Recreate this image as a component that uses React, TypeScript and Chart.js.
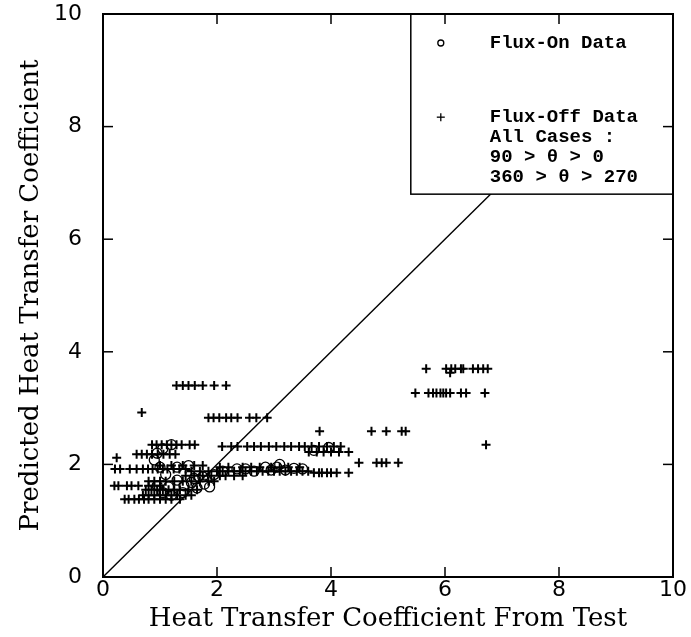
import React, { useEffect, useRef } from "react";
import { Chart, registerables } from "chart.js";
Chart.register(...registerables);

// ---- data ----
const tickValues = [0, 2, 4, 6, 8, 10];

const fluxOffX = [
  // y ~ 3.40
  1.29, 1.40, 1.50, 1.61, 1.75, 1.95, 2.16,
  // lone
  0.68,
  // y ~ 2.83
  1.85, 1.94, 2.04, 2.16, 2.25, 2.36, 2.57, 2.69, 2.88,
  // y ~ 2.32
  2.09, 2.25, 2.36, 2.53, 2.65, 2.77, 2.91, 3.04, 3.18, 3.30, 3.44, 3.54, 3.66, 3.79, 3.93, 4.05, 4.17,
  // y ~ 2.22
  3.61, 3.75, 3.87, 4.00, 4.14, 4.31,
  // y ~ 2.35 left
  0.86, 0.94, 1.03, 1.12, 1.20, 1.29, 1.38, 1.52, 1.61,
  // y ~ 2.18 left
  0.59, 0.68, 0.77, 0.86, 0.96, 1.06, 1.17, 1.27,
  0.24,
  // y ~ 1.92 left
  0.21, 0.30, 0.47, 0.59, 0.70, 0.79, 0.87, 0.96, 1.05, 1.13, 1.24, 1.34, 1.45,
  // y ~ 1.98
  1.00, 1.20, 1.40, 1.60, 1.75,
  // y ~ 1.88 main row
  1.55, 1.70, 1.85, 2.00, 2.10, 2.20, 2.30, 2.40, 2.50, 2.60, 2.70, 2.80, 2.90, 3.00, 3.10, 3.20, 3.30, 3.40, 3.50, 3.60,
  // y ~ 1.95
  2.05, 2.20, 2.45, 2.60, 2.75, 2.95, 3.10, 3.25, 3.45,
  // y ~ 1.85 right
  3.70, 3.79, 3.84, 3.93, 4.00, 4.10, 4.31,
  4.49,
  // y ~ 2.03
  4.80, 4.89, 4.97, 5.18,
  // y ~ 2.59
  3.80, 4.71, 4.97, 5.24, 5.31,
  // y ~ 3.70
  5.67, 6.02, 6.11, 6.18, 6.28, 6.32, 6.49, 6.58, 6.67, 6.75,
  6.09,
  // y ~ 3.27
  5.48, 5.71, 5.79, 5.85, 5.92, 5.97, 6.02, 6.09, 6.28, 6.37, 6.70,
  6.72,
  // lower dense cluster
  0.20, 0.27, 0.42, 0.50, 0.62, 0.80, 0.90, 1.00,
  0.38, 0.45, 0.55, 0.63, 0.72, 0.80, 0.90, 1.00, 1.10, 1.20, 1.35,
  0.70, 0.80, 0.90, 1.00, 1.10, 1.20, 1.30, 1.45, 1.55,
  0.75, 0.85, 0.95, 1.05, 1.15, 1.25, 1.35, 1.50, 1.65,
  0.80, 0.90, 1.00, 1.10, 1.25, 1.40, 1.55, 1.70, 1.85, 1.95,
  1.45, 1.60, 1.75, 1.90, 2.05, 2.15, 2.30, 2.45,
];

const fluxOffY = [
  3.40, 3.40, 3.40, 3.40, 3.40, 3.40, 3.40,
  2.92,
  2.83, 2.83, 2.83, 2.83, 2.83, 2.83, 2.83, 2.83, 2.83,
  2.32, 2.32, 2.32, 2.32, 2.32, 2.32, 2.32, 2.32, 2.32, 2.32, 2.32, 2.32, 2.32, 2.32, 2.32, 2.32, 2.32,
  2.22, 2.22, 2.22, 2.22, 2.22, 2.22,
  2.35, 2.35, 2.35, 2.35, 2.35, 2.35, 2.35, 2.35, 2.35,
  2.18, 2.18, 2.18, 2.18, 2.18, 2.18, 2.18, 2.18,
  2.12,
  1.92, 1.92, 1.92, 1.92, 1.92, 1.92, 1.92, 1.92, 1.92, 1.92, 1.92, 1.92, 1.92,
  1.98, 1.98, 1.98, 1.98, 1.98,
  1.88, 1.88, 1.88, 1.88, 1.88, 1.88, 1.88, 1.88, 1.88, 1.88, 1.88, 1.88, 1.88, 1.88, 1.88, 1.88, 1.88, 1.88, 1.88, 1.88,
  1.95, 1.95, 1.95, 1.95, 1.95, 1.95, 1.95, 1.95, 1.95,
  1.85, 1.85, 1.85, 1.85, 1.85, 1.85, 1.85,
  2.03,
  2.03, 2.03, 2.03, 2.03,
  2.59, 2.59, 2.59, 2.59, 2.59,
  3.70, 3.70, 3.70, 3.70, 3.70, 3.70, 3.70, 3.70, 3.70, 3.70,
  3.63,
  3.27, 3.27, 3.27, 3.27, 3.27, 3.27, 3.27, 3.27, 3.27, 3.27, 3.27,
  2.35,
  1.62, 1.62, 1.62, 1.62, 1.62, 1.62, 1.62, 1.62,
  1.38, 1.38, 1.38, 1.38, 1.38, 1.38, 1.38, 1.38, 1.38, 1.38, 1.38,
  1.45, 1.45, 1.45, 1.45, 1.45, 1.45, 1.45, 1.45, 1.45,
  1.55, 1.55, 1.55, 1.55, 1.55, 1.55, 1.55, 1.55, 1.55,
  1.70, 1.70, 1.70, 1.70, 1.70, 1.70, 1.70, 1.70, 1.70, 1.70,
  1.80, 1.80, 1.80, 1.80, 1.80, 1.80, 1.80, 1.80,
];

const fluxOnX = [
  1.87, 1.78, 1.65, 1.55, 1.42, 1.30, 1.15, 1.05, 0.95, 1.20, 1.40, 1.60, 1.75, 1.95, 2.10,
  1.10, 1.30, 1.50, 0.95, 1.05, 1.20, 0.90, 1.00,
  2.35, 2.50, 2.65, 2.85, 2.95, 3.05, 3.10, 3.20, 3.35, 3.50, 3.70, 3.96,
];
const fluxOnY = [
  1.60, 1.65, 1.58, 1.68, 1.62, 1.72, 1.60, 1.50, 1.62, 1.45, 1.50, 1.75, 1.78, 1.82, 1.88,
  1.82, 1.95, 1.98, 2.20, 2.28, 2.35, 2.08, 1.95,
  1.92, 1.92, 1.88, 1.95, 1.90, 1.95, 2.00, 1.90, 1.93, 1.92, 2.25, 2.30,
];

const diagonalX = [0, 10];
const diagonalY = [0, 10];

const legendLines = ["Flux-On Data", "Flux-Off Data", "All Cases :", "90 > \u03b8 > 0", "360 > \u03b8 > 270"];
const xTitle = "Heat Transfer Coefficient From Test";
const yTitle = "Predicted Heat Transfer Coefficient";

const toPoints = (xs: number[], ys: number[]) => xs.map((x, i) => ({ x, y: ys[i] }));

const framePlugin = {
  id: "framePlugin",
  afterDatasetsDraw(chart: any) {
    const { ctx, chartArea: a, scales } = chart;
    const x = scales.x;
    const y = scales.y;
    ctx.save();
    ctx.strokeStyle = "#000";
    ctx.fillStyle = "#000";

    // legend box (opaque, covers the diagonal)
    const bx = x.getPixelForValue(5.4);
    const by = y.getPixelForValue(6.8);
    ctx.fillStyle = "#fff";
    ctx.fillRect(bx, a.top, a.right - bx, by - a.top);
    ctx.lineWidth = 1.5;
    ctx.strokeRect(bx, a.top, a.right - bx, by - a.top);

    // frame
    ctx.lineWidth = 2;
    ctx.strokeRect(a.left, a.top, a.right - a.left, a.bottom - a.top);

    // inward ticks
    ctx.lineWidth = 1.5;
    const seg = (x1: number, y1: number, x2: number, y2: number) => {
      ctx.beginPath();
      ctx.moveTo(x1, y1);
      ctx.lineTo(x2, y2);
      ctx.stroke();
    };
    const tl = 10;
    tickValues.forEach((t) => {
      if (t === 0 || t === 10) return;
      const px = x.getPixelForValue(t);
      seg(px, a.bottom, px, a.bottom - tl);
      seg(px, a.top, px, a.top + tl);
      const py = y.getPixelForValue(t);
      seg(a.left, py, a.left + tl, py);
      seg(a.right, py, a.right - tl, py);
    });

    // legend contents
    const mx = bx + 30;
    const tx = bx + 79;
    const rowY = [a.top + 29, by - 77, by - 57, by - 37, by - 17];
    ctx.fillStyle = "#000";
    ctx.lineWidth = 1.3;
    ctx.beginPath();
    ctx.arc(mx, rowY[0], 3, 0, Math.PI * 2);
    ctx.stroke();
    ctx.lineWidth = 1.3;
    seg(mx - 4, rowY[1], mx + 4, rowY[1]);
    seg(mx, rowY[1] - 4, mx, rowY[1] + 4);
    ctx.font = "bold 19px 'Liberation Mono'";
    ctx.textAlign = "left";
    ctx.textBaseline = "middle";
    legendLines.forEach((s, i) => ctx.fillText(s, tx, rowY[i]));

    // axis titles
    ctx.font = "26px 'DejaVu Serif'";
    ctx.textAlign = "center";
    ctx.textBaseline = "middle";
    ctx.fillText(xTitle, (a.left + a.right) / 2, 619);
    ctx.save();
    ctx.translate(31, (a.top + a.bottom) / 2);
    ctx.rotate(-Math.PI / 2);
    ctx.fillText(yTitle, 0, 0);
    ctx.restore();

    ctx.restore();
  },
};

export default function App() {
  const ref = useRef<HTMLCanvasElement>(null);
  useEffect(() => {
    if (!ref.current) return;
    const tickFont = { family: "'DejaVu Sans'", size: 22 };
    const chart = new Chart(ref.current, {
      type: "scatter",
      data: {
        datasets: [
          {
            label: "Flux-On Data",
            data: toPoints(fluxOnX, fluxOnY),
            pointStyle: "circle",
            pointRadius: 5,
            borderWidth: 1.3,
            borderColor: "#000",
            backgroundColor: "rgba(0,0,0,0)",
          },
          {
            label: "Flux-Off Data",
            data: toPoints(fluxOffX, fluxOffY),
            pointStyle: "cross",
            pointRadius: 4.5,
            borderWidth: 2,
            borderColor: "#000",
            backgroundColor: "#000",
          },
          {
            label: "y = x",
            data: toPoints(diagonalX, diagonalY),
            showLine: true,
            pointRadius: 0,
            borderColor: "#000",
            borderWidth: 1.4,
          },
        ],
      },
      options: {
        responsive: false,
        animation: false,
        devicePixelRatio: 1,
        layout: { padding: { top: 14, right: 18, left: 0, bottom: 0 } },
        plugins: { legend: { display: false }, tooltip: { enabled: false } },
        scales: {
          x: {
            type: "linear",
            min: 0,
            max: 10,
            ticks: { stepSize: 2, color: "#000", font: tickFont, padding: 0, maxRotation: 0 },
            grid: { display: false, drawTicks: false },
            border: { display: false },
            afterFit: (s: any) => {
              s.height = 60;
              s.paddingLeft = 0;
              s.paddingRight = 0;
            },
          },
          y: {
            type: "linear",
            min: 0,
            max: 10,
            ticks: { stepSize: 2, color: "#000", font: tickFont, padding: 21 },
            grid: { display: false, drawTicks: false },
            border: { display: false },
            afterFit: (s: any) => {
              s.width = 103;
              s.paddingTop = 0;
              s.paddingBottom = 0;
            },
          },
        },
      },
      plugins: [framePlugin],
    } as any);
    return () => chart.destroy();
  }, []);
  return (
    <div style={{ position: "fixed", left: 0, top: 0, width: 691, height: 637, background: "#fff" }}>
      <canvas ref={ref} width={691} height={637} style={{ display: "block", width: 691, height: 637 }} />
    </div>
  );
}
